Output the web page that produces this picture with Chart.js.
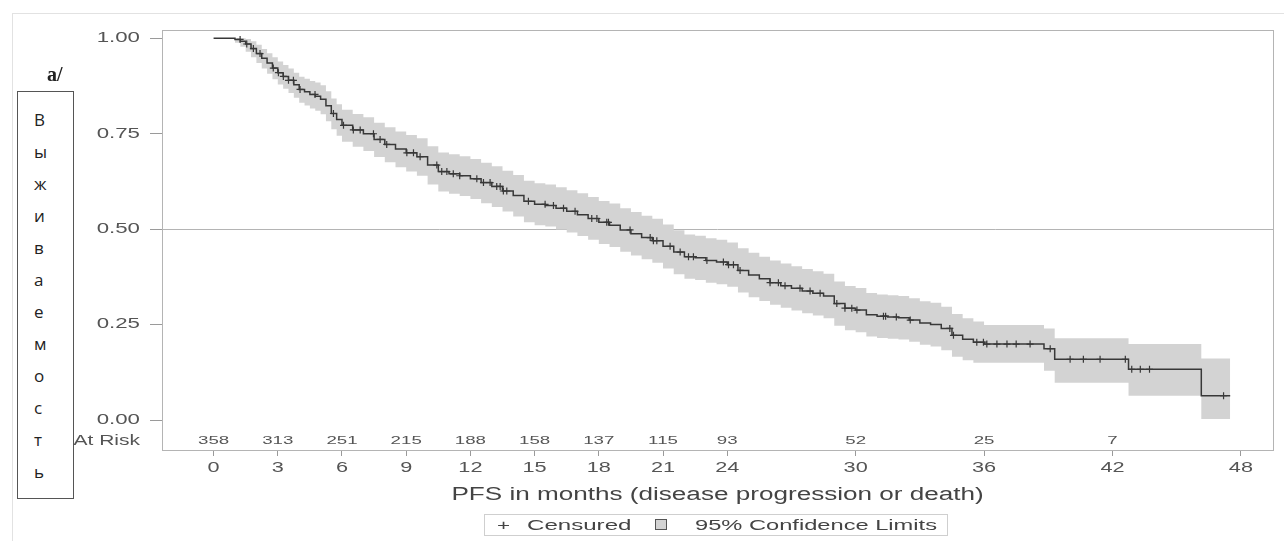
<!DOCTYPE html>
<html>
<head>
<meta charset="utf-8">
<script src="https://cdn.jsdelivr.net/npm/chart.js@4.4.1/dist/chart.umd.min.js"></script>
<style>
  html, body { margin: 0; padding: 0; background: #fff; }
  #wrap { position: relative; width: 1284px; height: 541px; overflow: hidden; font-family: "Liberation Sans", Arial, sans-serif; }
  #outer { position: absolute; left: 12px; top: 13px; width: 1272px; height: 528px; border-top: 1px solid #e2e2e2; border-left: 1px solid #e2e2e2; }
  #c { position: absolute; left: 0; top: 0; }
  #alabel { position: absolute; left: 47px; top: 63px; font-family: "Liberation Serif", "DejaVu Serif", serif; font-weight: bold; font-size: 20px; color: #222; }
  #vbox { position: absolute; left: 17px; top: 91px; width: 57px; height: 408px; border: 1px solid #555; background: #fff; box-sizing: border-box; padding-top: 12px; }
  #vbox div { height: 32px; line-height: 32px; padding-left: 16px; font-family: "Open Sans", "Noto Sans", sans-serif; font-size: 17px; color: #222; }
  #xtitle { position: absolute; left: 162px; width: 1111px; top: 483px; text-align: center; font-size: 18px; color: #444; line-height: 22px; }
  #xtitle span { display: inline-block; transform: scaleX(1.45); transform-origin: 50% 50%; white-space: nowrap; }
  #legend { position: absolute; left: 484px; top: 514px; width: 464px; height: 22px; border: 1px solid #cfcfcf; box-sizing: border-box; font-size: 14px; color: #444; line-height: 20px; white-space: nowrap; }
  #legend span { position: absolute; top: 0; display: inline-block; transform-origin: 0 50%; }
  #legend .plus { left: 12px; transform: scaleX(1.6); }
  #legend .t1 { left: 42px; transform: scaleX(1.72); }
  #legend .sq { left: 170px; top: 4px; width: 12px; height: 11px; border: 1px solid #555; background: #d3d3d3; box-sizing: border-box; }
  #legend .t2 { left: 210px; transform: scaleX(1.69); }
</style>
</head>
<body>
<div id="wrap">
  <div id="outer"></div>
  <canvas id="c" width="1284" height="541"></canvas>
  <div id="alabel">a/</div>
  <div id="vbox"><div>В</div><div>ы</div><div>ж</div><div>и</div><div>в</div><div>а</div><div>е</div><div>м</div><div>о</div><div>с</div><div>т</div><div>ь</div></div>
  <div id="xtitle"><span>PFS in months (disease progression or death)</span></div>
  <div id="legend"><span class="plus">+</span><span class="t1">Censured</span><span class="sq"></span><span class="t2">95% Confidence Limits</span></div>
</div>
<script>
// ---- Data ----
const survTimes  = [0, 0.5, 1.0, 1.25, 1.5, 1.75, 2.0, 2.25, 2.5, 2.75, 3.0, 3.25, 3.5, 3.75, 4.0, 4.25, 4.5, 4.75, 5.0, 5.25, 5.5, 5.75, 6.0, 6.5, 7.0, 7.5, 8.0, 8.5, 9.0, 9.5, 10.0, 10.5, 11.0, 11.5, 12.0, 12.5, 13.0, 13.5, 14.0, 14.5, 15.0, 15.5, 16.0, 16.5, 17.0, 17.5, 18.0, 18.5, 19.0, 19.5, 20.0, 20.5, 21.0, 21.5, 22.0, 22.5, 23.0, 23.5, 24.0, 24.5, 25.0, 25.5, 26.0, 26.5, 27.0, 27.5, 28.0, 28.5, 29.0, 29.5, 30.0, 30.5, 31.0, 31.5, 32.0, 32.5, 33.0, 33.5, 34.0, 34.5, 35.0, 35.5, 36.0, 38.8, 39.3, 42.75, 46.15, 47.5];
const survValues = [1.000, 1.000, 0.997, 0.992, 0.985, 0.973, 0.960, 0.948, 0.935, 0.922, 0.910, 0.900, 0.890, 0.878, 0.866, 0.860, 0.853, 0.848, 0.840, 0.823, 0.803, 0.787, 0.772, 0.760, 0.750, 0.735, 0.722, 0.710, 0.700, 0.690, 0.668, 0.651, 0.645, 0.640, 0.632, 0.622, 0.612, 0.600, 0.588, 0.573, 0.565, 0.562, 0.555, 0.547, 0.538, 0.528, 0.518, 0.510, 0.498, 0.488, 0.478, 0.470, 0.455, 0.440, 0.428, 0.425, 0.418, 0.414, 0.407, 0.392, 0.380, 0.370, 0.360, 0.352, 0.345, 0.338, 0.332, 0.325, 0.305, 0.293, 0.288, 0.276, 0.272, 0.270, 0.268, 0.262, 0.254, 0.250, 0.240, 0.222, 0.212, 0.204, 0.199, 0.187, 0.159, 0.133, 0.064, 0.064];
// 95% confidence limits at the same times
const bandUpper  = [1.000, 1.000, 1.000, 1.000, 0.998, 0.992, 0.983, 0.972, 0.961, 0.950, 0.939, 0.930, 0.921, 0.910, 0.899, 0.894, 0.888, 0.884, 0.877, 0.861, 0.842, 0.827, 0.813, 0.802, 0.793, 0.779, 0.767, 0.756, 0.747, 0.738, 0.717, 0.701, 0.696, 0.691, 0.684, 0.674, 0.665, 0.653, 0.642, 0.627, 0.620, 0.617, 0.610, 0.602, 0.594, 0.584, 0.574, 0.567, 0.555, 0.545, 0.535, 0.527, 0.512, 0.497, 0.486, 0.483, 0.476, 0.472, 0.465, 0.450, 0.438, 0.428, 0.418, 0.410, 0.403, 0.396, 0.390, 0.383, 0.363, 0.351, 0.346, 0.333, 0.329, 0.327, 0.325, 0.319, 0.311, 0.307, 0.297, 0.278, 0.267, 0.258, 0.249, 0.240, 0.214, 0.199, 0.161, 0.161];
const bandLower  = [1.000, 1.000, 0.988, 0.978, 0.965, 0.950, 0.935, 0.921, 0.907, 0.893, 0.879, 0.868, 0.857, 0.844, 0.831, 0.824, 0.816, 0.810, 0.801, 0.783, 0.762, 0.745, 0.729, 0.716, 0.705, 0.689, 0.675, 0.662, 0.651, 0.640, 0.617, 0.599, 0.593, 0.587, 0.579, 0.568, 0.558, 0.546, 0.533, 0.518, 0.510, 0.507, 0.499, 0.491, 0.482, 0.472, 0.461, 0.453, 0.441, 0.431, 0.421, 0.412, 0.397, 0.382, 0.370, 0.367, 0.360, 0.356, 0.349, 0.334, 0.322, 0.312, 0.302, 0.294, 0.287, 0.280, 0.274, 0.267, 0.247, 0.235, 0.230, 0.219, 0.215, 0.213, 0.211, 0.205, 0.197, 0.193, 0.183, 0.166, 0.157, 0.150, 0.150, 0.129, 0.098, 0.064, 0.003, 0.003];

const censorTimes = [1.24, 1.55, 1.86, 2.17, 2.79, 3.03, 3.26, 3.5, 3.73, 4.04, 4.74, 5.6, 6.07, 6.53, 6.85, 7.47, 7.78, 8.09, 9.03, 9.34, 9.65, 10.43, 10.66, 10.9, 11.2, 11.5, 12.3, 12.61, 12.92, 13.23, 13.39, 13.54, 13.7, 14.71, 15.49, 15.88, 16.35, 16.89, 17.67, 17.91, 18.37, 18.45, 19.46, 20.4, 20.55, 20.71, 21.33, 21.8, 22.19, 22.42, 23.05, 23.82, 24.06, 24.29, 24.6, 26.0, 26.39, 26.7, 27.4, 27.87, 28.34, 29.12, 29.5, 29.82, 30.06, 31.3, 31.4, 31.9, 32.55, 34.4, 34.57, 35.66, 35.97, 36.13, 36.6, 37.07, 37.5, 38.15, 39.09, 40.02, 40.64, 41.42, 42.6, 42.9, 43.3, 43.73, 47.19];

const xTickValues = [0, 3, 6, 9, 12, 15, 18, 21, 24, 30, 36, 42, 48];
const yTickValues = [0, 0.25, 0.5, 0.75, 1.0];
const riskTimes  = [0, 3, 6, 9, 12, 15, 18, 21, 24, 30, 36, 42];
const riskCounts = [358, 313, 251, 215, 188, 158, 137, 115, 93, 52, 25, 7];

// ---- Build datasets ----
function survAt(t) {
  let v = survValues[0];
  for (let i = 0; i < survTimes.length; i++) { if (survTimes[i] <= t) v = survValues[i]; else break; }
  return v;
}
const survPts   = survTimes.map((t, i) => ({ x: t, y: survValues[i] }));
const upperPts  = survTimes.map((t, i) => ({ x: t, y: bandUpper[i] }));
const lowerPts  = survTimes.map((t, i) => ({ x: t, y: bandLower[i] }));
const censorPts = censorTimes.map(t => ({ x: t, y: survAt(t) }));

const FONT = '"Liberation Sans", Arial, sans-serif';
function stretchedText(ctx, text, x, y, align, sx, font) {
  ctx.save();
  ctx.font = font;
  ctx.textAlign = align;
  ctx.textBaseline = 'middle';
  ctx.translate(x, y);
  ctx.scale(sx, 1);
  ctx.fillText(text, 0, 0);
  ctx.restore();
}

const framePlugin = {
  id: 'frame',
  afterDatasetsDraw(chart) {
    const { ctx, chartArea: a, scales } = chart;
    ctx.save();
    ctx.strokeStyle = '#b4b4b4';
    ctx.lineWidth = 1;
    ctx.strokeRect(Math.round(a.left) + 0.5, Math.round(a.top) + 0.5, Math.round(a.right - a.left), Math.round(a.bottom - a.top));
    ctx.fillStyle = '#555';
    const yRow = a.bottom - 9;
    riskTimes.forEach((t, i) => {
      stretchedText(ctx, String(riskCounts[i]), scales.x.getPixelForValue(t), yRow, 'center', 1.7, '11px ' + FONT);
    });
    stretchedText(ctx, 'At Risk', a.left - 22, yRow, 'right', 1.5, '14px ' + FONT);
    yTickValues.forEach(v => {
      stretchedText(ctx, v.toFixed(2), a.left - 22, scales.y.getPixelForValue(v), 'right', 1.59, '14px ' + FONT);
    });
    xTickValues.forEach(v => {
      stretchedText(ctx, String(v), scales.x.getPixelForValue(v), a.bottom + 18, 'center', 1.55, '14px ' + FONT);
    });
    ctx.restore();
  }
};

new Chart(document.getElementById('c'), {
  type: 'line',
  data: {
    datasets: [
      { label: 'upper', data: upperPts, stepped: 'before', fill: '+1', backgroundColor: '#d3d3d3', borderWidth: 0, pointRadius: 0, order: 3 },
      { label: 'lower', data: lowerPts, stepped: 'before', fill: false, borderWidth: 0, pointRadius: 0, order: 3 },
      { label: 'survival', data: survPts, stepped: 'before', fill: false, borderColor: '#383838', borderWidth: 1.5, pointRadius: 0, order: 2 },
      { label: 'censored', data: censorPts, showLine: false, pointStyle: 'cross', pointRadius: 3.5, pointBorderWidth: 1.2, pointBorderColor: '#383838', order: 1 }
    ]
  },
  options: {
    responsive: false,
    animation: false,
    devicePixelRatio: 1,
    layout: { padding: { top: 30, right: 11, left: 0, bottom: 0 } },
    plugins: { legend: { display: false }, tooltip: { enabled: false } },
    scales: {
      x: {
        type: 'linear', min: -2.41, max: 49.5,
        afterBuildTicks: s => { s.ticks = xTickValues.map(v => ({ value: v })); },
        afterFit: s => { s.height = 91; },
        grid: { drawOnChartArea: false, drawTicks: true, tickLength: 6, tickColor: '#9a9a9a' },
        border: { display: false },
        ticks: { display: false, autoSkip: false }
      },
      y: {
        type: 'linear', min: -0.0784, max: 1.0217,
        afterBuildTicks: s => { s.ticks = yTickValues.map(v => ({ value: v })); },
        afterFit: s => { s.width = 162; },
        grid: { drawTicks: true, tickLength: 12, tickColor: '#9a9a9a', color: c => (c.tick && c.tick.value === 0.5) ? '#b4b4b4' : 'rgba(0,0,0,0)', lineWidth: 1 },
        border: { display: false },
        ticks: { display: false }
      }
    }
  },
  plugins: [framePlugin]
});
</script>
</body>
</html>
